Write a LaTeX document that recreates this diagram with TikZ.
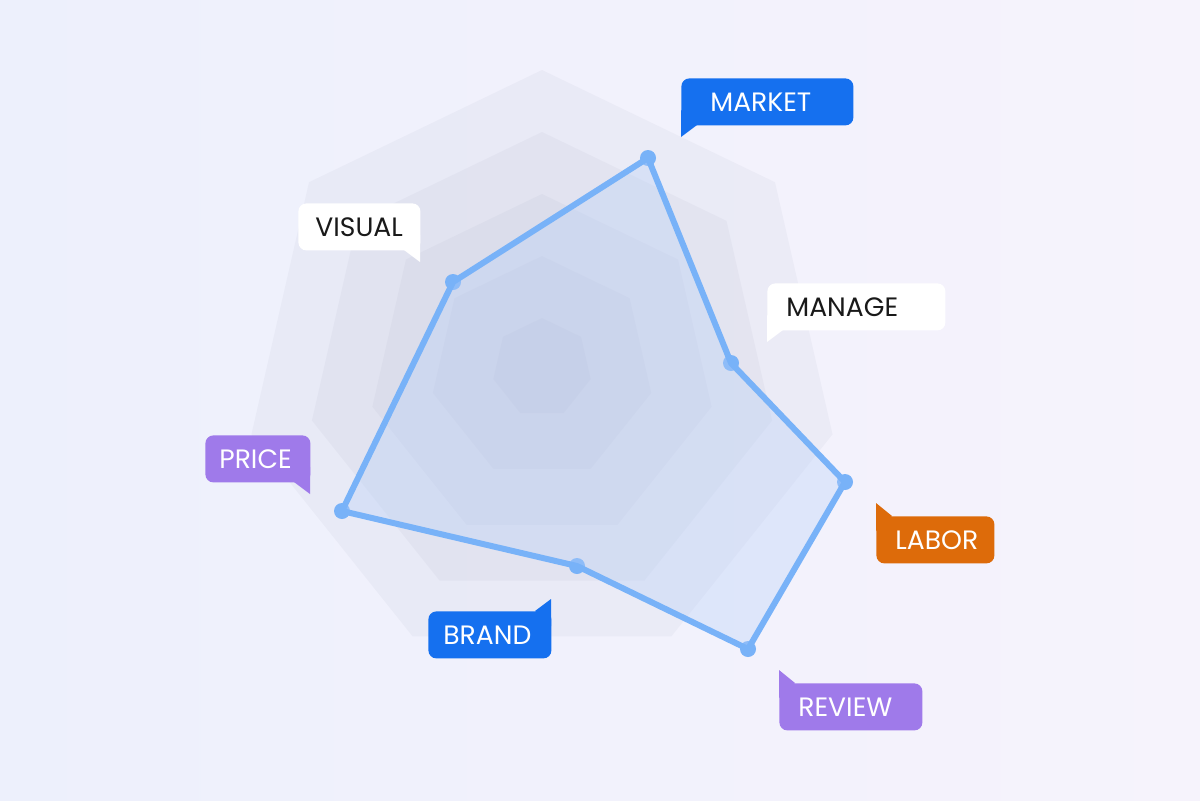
\documentclass[tikz,border=0pt]{standalone}
\usepackage{fontspec}
\setmainfont{Poppins}
\usetikzlibrary{calc}
\definecolor{bgA}{HTML}{EDF0FC}
\definecolor{bgB}{HTML}{F6F3FC}
\definecolor{lay}{HTML}{8C90AC}
\definecolor{line}{HTML}{78B2F8}
\definecolor{pfill}{HTML}{B8D0F8}
\definecolor{cblue}{HTML}{1570EF}
\definecolor{cpurp}{HTML}{9F7AEA}
\definecolor{corng}{HTML}{DD6B0A}
\newcommand{\pd}[1]{\hspace*{#1pt}}
\begin{document}
\begin{tikzpicture}[x=0.5pt,y=-0.5pt,
  tag/.style={rounded corners=4pt,minimum height=23.5pt,inner xsep=0pt,inner ysep=0pt,text width=#1,align=left,font=\fontsize{13.3}{15}\selectfont,anchor=north west},
  wt/.style={tag=#1,fill=white,text=black!90},
  bt/.style={tag=#1,fill=cblue,text=white},
  pt/.style={tag=#1,fill=cpurp,text=white},
  ot/.style={tag=#1,fill=corng,text=white},
  dot/.style={circle,fill=line,inner sep=0pt,minimum size=8pt}]
\shade[left color=bgA,right color=bgB] (0,0) rectangle (1200,800);
\useasboundingbox (0,0) rectangle (1200,800);
\coordinate (c) at (542,368);
\foreach \r in {298,236,174,112,50}{
  \fill[lay,opacity=0.07] ($(c)+(270:\r)$) \foreach \k in {1,...,6}{ -- ($(c)+({270+\k*360/7}:\r)$)} -- cycle;
}
\node[dot] (m1) at (648,158) {};
\node[dot] (m2) at (731,363) {};
\node[dot] (m3) at (845,482) {};
\node[dot] (m4) at (748,649) {};
\node[dot] (m5) at (577,566) {};
\node[dot] (m6) at (342,511) {};
\node[dot] (m7) at (453,282) {};
\filldraw[fill=pfill,fill opacity=0.35,draw=line,line width=3pt,line join=round]
 (m1.center)--(m2.center)--(m3.center)--(m4.center)--(m5.center)--(m6.center)--(m7.center)--cycle;
\node[bt=86pt] (t1) at (681,78) {\pd{14.5}MARKET};
\fill[cblue] (681,110)--(681,137)--(697,125)--cycle;
\node[wt=61pt] (t2) at (298,203) {\pd{8.5}VISUAL};
\fill[white] (420,235)--(420,262)--(404,250)--cycle;
\node[wt=89pt] (t3) at (767,283) {\pd{9.5}MANAGE};
\fill[white] (767,315)--(767,342)--(783,330)--cycle;
\node[pt=52.5pt] (t4) at (205,435) {\pd{7}PRICE};
\fill[cpurp] (310,467)--(310,494)--(294,482)--cycle;
\node[ot=59pt] (t5) at (876,516) {\pd{9.5}LABOR};
\fill[corng] (876,531)--(876,503)--(892,516)--cycle;
\node[bt=61.5pt] (t6) at (428,611) {\pd{7.5}BRAND};
\fill[cblue] (551,626)--(551,599)--(535,611)--cycle;
\node[pt=71.5pt] (t7) at (779,683) {\pd{9.5}REVIEW};
\fill[cpurp] (779,698)--(779,670)--(795,683)--cycle;
\end{tikzpicture}
\end{document}
